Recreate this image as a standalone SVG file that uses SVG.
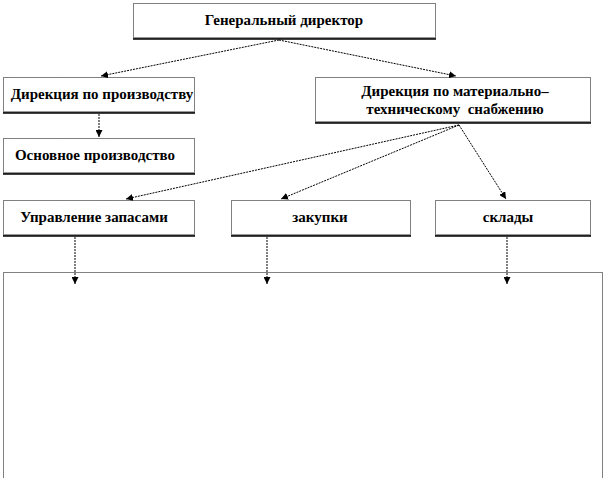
<svg xmlns="http://www.w3.org/2000/svg" width="604" height="478" viewBox="0 0 604 478">
<defs>
<marker id="ah" viewBox="0 0 10 10" refX="10" refY="5" markerWidth="7" markerHeight="7" orient="auto" markerUnits="userSpaceOnUse">
<path d="M0,0 L10,5 L0,10 Z" fill="#000"/>
</marker>
</defs>
<style>
.box{fill:#fff;stroke:#000;stroke-width:1;stroke-dasharray:1 1}
.sh{stroke:#000;stroke-width:1.5}
.sg{stroke:#999;stroke-width:1}
.t{font-family:"Liberation Serif","Times New Roman",serif;font-weight:bold;font-size:15px;fill:#000;text-anchor:middle}
.c{fill:none;stroke:#000;stroke-width:1;stroke-dasharray:2 1;marker-end:url(#ah)}
</style>
<rect x="3.5" y="272.5" width="599" height="210" fill="none" stroke="#000" stroke-width="1" stroke-dasharray="1 1"/>
<g id="n-gen">
<rect class="box" x="133.5" y="3.5" width="302" height="35"/>
<line class="sg" x1="134" y1="37.5" x2="435" y2="37.5"/>
<line class="sh" x1="133" y1="39" x2="436" y2="39"/>
<text class="t" x="284" y="25">Генеральный директор</text>
</g>
<g id="n-prod">
<rect class="box" x="3.5" y="77.5" width="191" height="35"/>
<line class="sg" x1="4" y1="111.5" x2="194" y2="111.5"/>
<line class="sh" x1="3" y1="113" x2="195" y2="113"/>
<text class="t" x="102" y="99">Дирекция по производству</text>
</g>
<g id="n-osn">
<rect class="box" x="3.5" y="138.5" width="191" height="35"/>
<line class="sg" x1="4" y1="172.5" x2="194" y2="172.5"/>
<line class="sh" x1="3" y1="174" x2="195" y2="174"/>
<text class="t" x="95" y="160">Основное производство</text>
</g>
<g id="n-mts">
<rect class="box" x="315.5" y="77.5" width="275" height="45"/>
<line class="sg" x1="316" y1="121.5" x2="590" y2="121.5"/>
<line class="sh" x1="315" y1="123" x2="591" y2="123"/>
<text class="t" x="455" y="96">Дирекция по материально–</text>
<text class="t" x="455" y="114" xml:space="preserve">техническому  снабжению</text>
</g>
<g id="n-upr">
<rect class="box" x="3.5" y="200.5" width="191" height="35"/>
<line class="sg" x1="4" y1="234.5" x2="194" y2="234.5"/>
<line class="sh" x1="3" y1="236" x2="195" y2="236"/>
<text class="t" x="94" y="222">Управление запасами</text>
</g>
<g id="n-zak">
<rect class="box" x="231.5" y="200.5" width="179" height="35"/>
<line class="sg" x1="232" y1="234.5" x2="410" y2="234.5"/>
<line class="sh" x1="231" y1="236" x2="411" y2="236"/>
<text class="t" x="320" y="222">закупки</text>
</g>
<g id="n-skl">
<rect class="box" x="435.5" y="200.5" width="155" height="35"/>
<line class="sg" x1="436" y1="234.5" x2="590" y2="234.5"/>
<line class="sh" x1="435" y1="236" x2="591" y2="236"/>
<text class="t" x="508" y="222">склады</text>
</g>
<g id="connectors">
<path class="c" d="M279,40 L101,76"/>
<path class="c" d="M279,40 L456,76"/>
<path class="c" d="M99,114 L99,137"/>
<path class="c" d="M459,125 L126,199"/>
<path class="c" d="M459,125 L281,199"/>
<path class="c" d="M459,125 L506,199"/>
<path class="c" d="M75,237 L75,284"/>
<path class="c" d="M267,237 L267,284"/>
<path class="c" d="M507,237 L507,284"/>
</g>
</svg>
